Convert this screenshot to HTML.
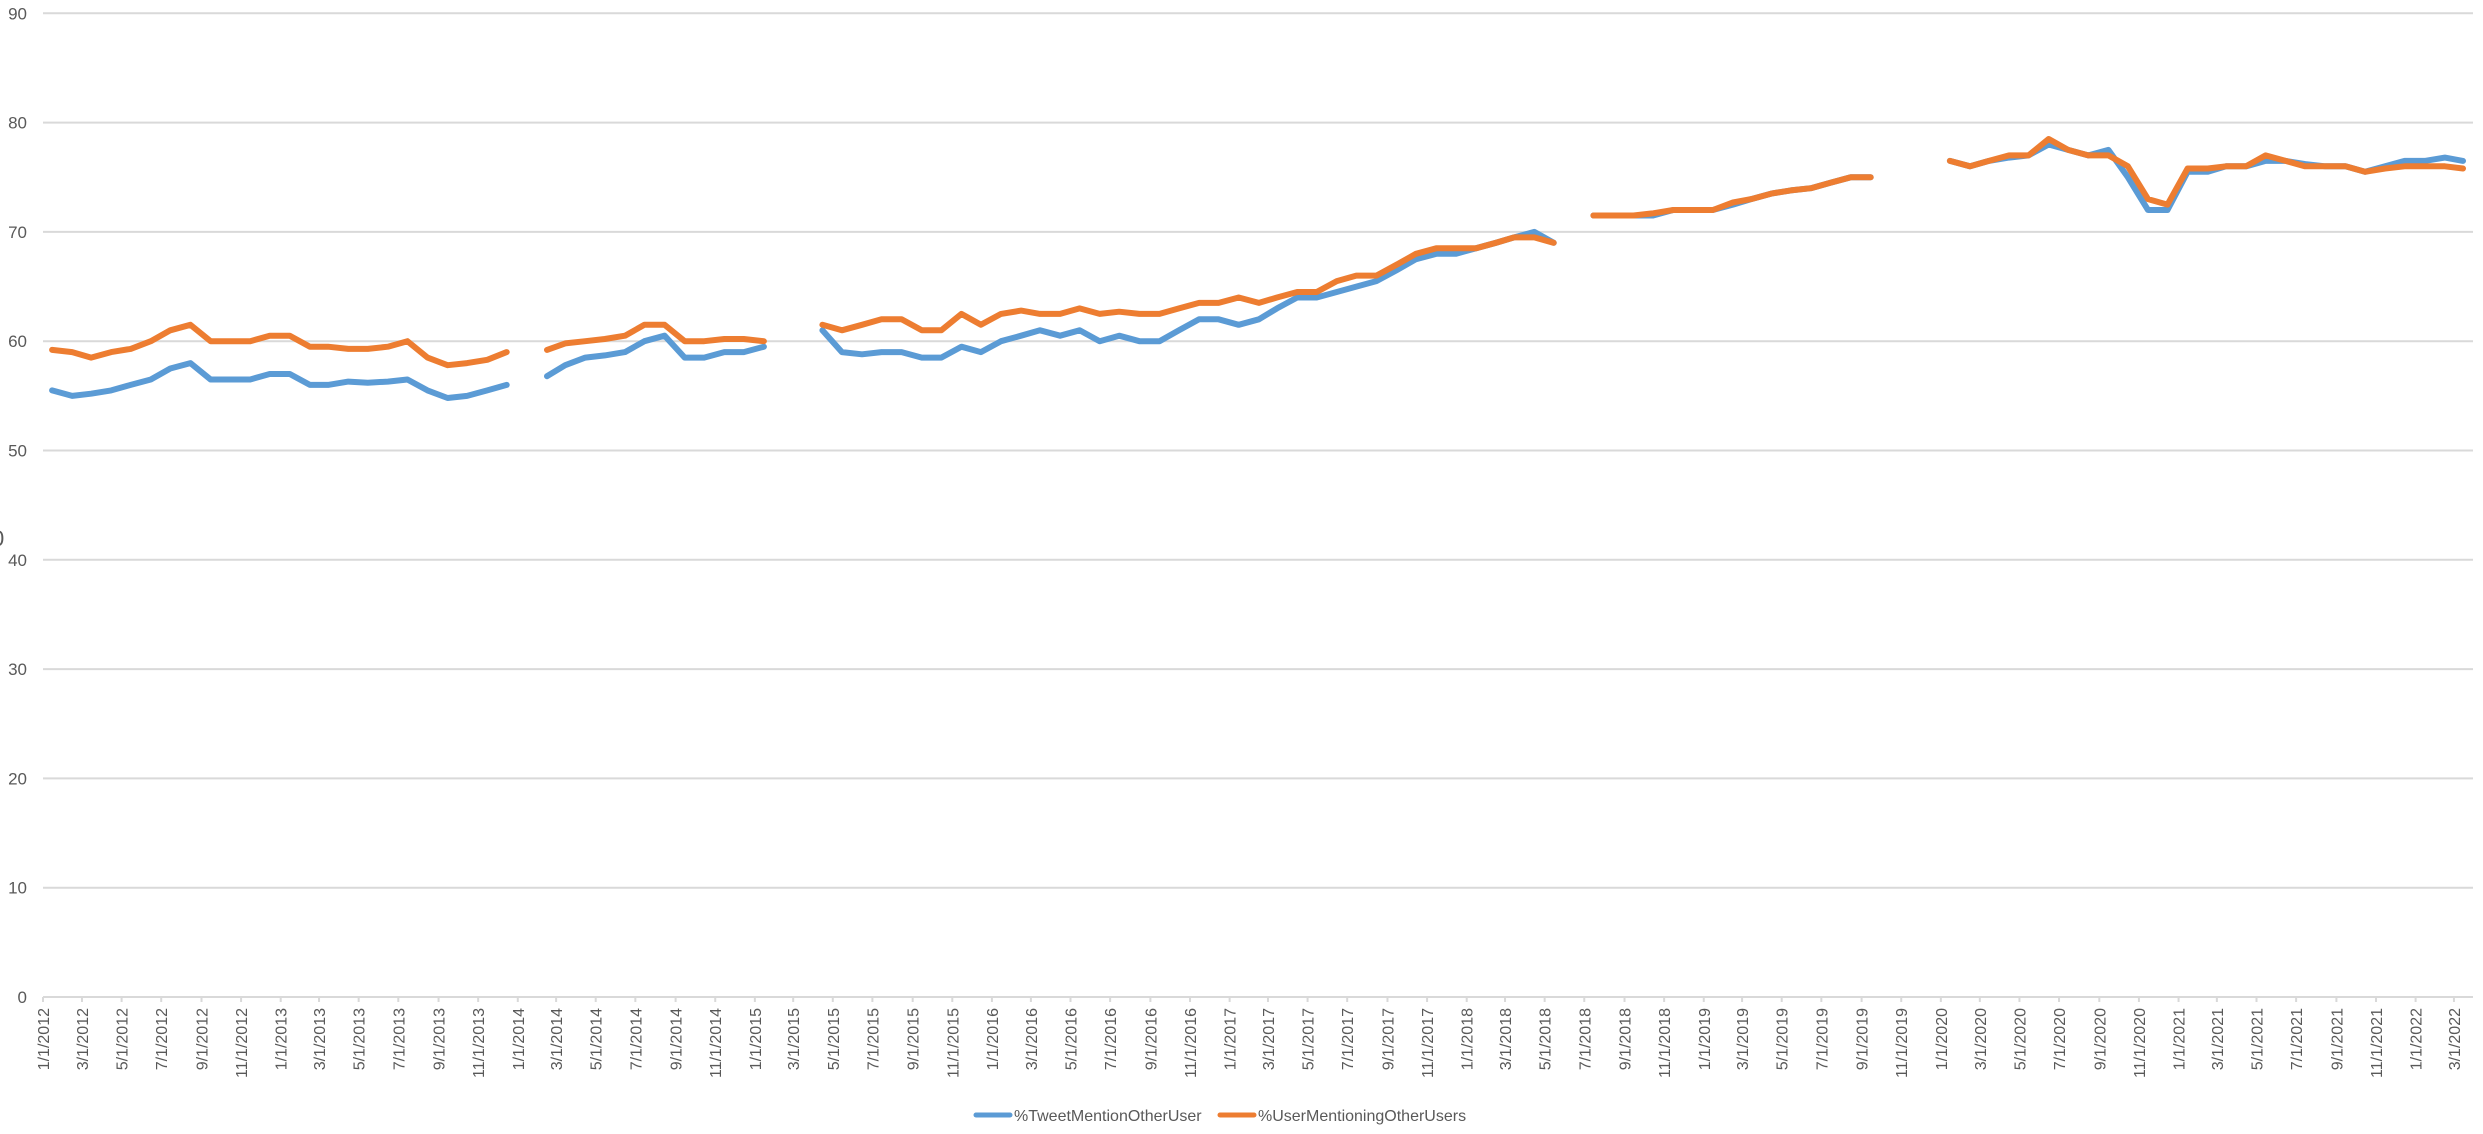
<!DOCTYPE html>
<html><head><meta charset="utf-8">
<style>
html,body{margin:0;padding:0;background:#fff;}
svg{display:block;font-family:"Liberation Sans",sans-serif;}
</style></head>
<body>
<svg id="chart" width="2483" height="1134" viewBox="0 0 2483 1134" xmlns="http://www.w3.org/2000/svg">
<g id="grid"></g>
<g id="yticks"></g>
<g id="xaxis"></g>
<g id="series"></g>
<text x="-8" y="546" font-size="22" fill="#595959">0</text>
<g>
  <g>
    <line x1="976" y1="1115" x2="1010" y2="1115" stroke="#5b9bd5" stroke-width="5" stroke-linecap="round"/>
    <text x="1014" y="1121" font-size="16" fill="#595959">%TweetMentionOtherUser</text>
  </g>
  <g>
    <line x1="1220" y1="1115" x2="1254" y2="1115" stroke="#ed7d31" stroke-width="5" stroke-linecap="round"/>
    <text x="1258" y="1121" font-size="16" fill="#595959">%UserMentioningOtherUsers</text>
  </g>
</g>
</svg>
<script>
// Monthly values starting Jan 2012 (null = missing data)
const startYear = 2012;
const tweetMention = [
55.5,55,55.2,55.5,56,56.5,57.5,58,56.5,56.5,56.5,57,
57,56,56,56.3,56.2,56.3,56.5,55.5,54.8,55,55.5,56,
null,56.8,57.8,58.5,58.7,59,60,60.5,58.5,58.5,59,59,
59.5,null,null,61,59,58.8,59,59,58.5,58.5,59.5,59,
60,60.5,61,60.5,61,60,60.5,60,60,61,62,62,
61.5,62,63,64,64,64.5,65,65.5,66.5,67.5,68,68,
68.5,69,69.5,70,69,null,71.5,71.5,71.5,71.5,72,72,
72,72.5,73,73.5,73.8,74,74.5,75,75,null,null,null,
76.5,76,76.5,76.8,77,78,77.5,77,77.5,75,72,72,
75.5,75.5,76,76,76.5,76.5,76.2,76,76,75.5,76,76.5,
76.5,76.8,76.5
];
const userMentioning = [
59.2,59,58.5,59,59.3,60,61,61.5,60,60,60,60.5,
60.5,59.5,59.5,59.3,59.3,59.5,60,58.5,57.8,58,58.3,59,
null,59.2,59.8,60,60.2,60.5,61.5,61.5,60,60,60.2,60.2,
60,null,null,61.5,61,61.5,62,62,61,61,62.5,61.5,
62.5,62.8,62.5,62.5,63,62.5,62.7,62.5,62.5,63,63.5,63.5,
64,63.5,64,64.5,64.5,65.5,66,66,67,68,68.5,68.5,
68.5,69,69.5,69.5,69,null,71.5,71.5,71.5,71.7,72,72,
72,72.7,73,73.5,73.8,74,74.5,75,75,null,null,null,
76.5,76,76.5,77,77,78.5,77.5,77,77,76,73,72.5,
75.8,75.8,76,76,77,76.5,76,76,76,75.5,75.8,76,
76,76,75.8
];
const yTicks = [0,10,20,30,40,50,60,70,80,90];

const NS = "http://www.w3.org/2000/svg";
const X0 = 43, PXDAY = 0.6495, Y0 = 997, PXUNIT = 10.93, XR = 2473;
const base = Date.UTC(2012,0,1);
function xDate(y,m,d){ return X0 + (Date.UTC(y,m,d)-base)/86400000*PXDAY; }
function yv(v){ return Y0 - v*PXUNIT; }
function mk(tag, attrs, parent){ const e=document.createElementNS(NS,tag); for(const k in attrs) e.setAttribute(k,attrs[k]); parent.appendChild(e); return e; }

const grid=document.getElementById('grid'), yt=document.getElementById('yticks');
yTicks.forEach(t=>{
  const l=mk('line',{x1:X0,x2:XR,y1:yv(t),y2:yv(t),stroke:'#d9d9d9','stroke-width':2},grid);
  
  
  const tx=mk('text',{x:27,y:yv(t)+6,'text-anchor':'end','font-size':17,fill:'#595959'},yt);
  tx.textContent=t;
  
  
});

const xa=document.getElementById('xaxis');
for(let i=0;i<=122;i+=2){
  const y=startYear+Math.floor(i/12), m=i%12;
  const x=xDate(y,m,1);
  const tk=mk('line',{x1:x,x2:x,y1:Y0,y2:Y0+5,stroke:'#d9d9d9','stroke-width':2},xa);
  
  
  const lab=mk('text',{transform:`translate(${x+6},${Y0+11}) rotate(-90)`,'text-anchor':'end','font-size':16,fill:'#595959'},xa);
  lab.textContent=(m+1)+'/1/'+y;
  
  
}

function drawSeries(vals,color,name){
  let d='', pen=false;
  vals.forEach((v,i)=>{
    if(v===null){pen=false;return;}
    const y=startYear+Math.floor(i/12), m=i%12;
    const x=xDate(y,m,15), py=yv(v);
    d += (pen?'L':'M')+x.toFixed(1)+' '+py.toFixed(1)+' ';
    pen=true;
  });
  const p=mk('path',{d:d,fill:'none',stroke:color,'stroke-width':6,'stroke-linejoin':'round','stroke-linecap':'round'},document.getElementById('series'));
  
  
}
drawSeries(tweetMention,'#5b9bd5','series-tweet-mention-other-user');
drawSeries(userMentioning,'#ed7d31','series-user-mentioning-other-users');
</script>
</body></html>
